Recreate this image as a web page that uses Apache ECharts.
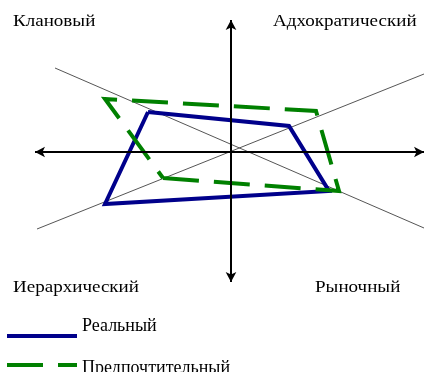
<!DOCTYPE html>
<html lang="ru">
<head>
<meta charset="UTF-8" />
<title>Профиль культуры</title>
<style>
  html, body { margin: 0; padding: 0; background: #fff; }
  #chart { width: 424px; height: 372px; }
</style>
</head>
<body>
<div id="chart"></div>
<script src="https://cdn.jsdelivr.net/npm/echarts@6/dist/echarts.min.js"></script>
<script>
// вершины профилей (условные единицы, 0,0 = пересечение осей)
const realPoints = [[-8.3, 4.0], [5.8, 2.6], [9.8, -3.9], [-12.6, -5.2]];
const preferredPoints = [[-6.8, -2.6], [10.8, -3.9], [8.5, 4.1], [-12.6, 5.3]];
// тонкие диагонали
const diagonalDown = [[-17.6, 8.4], [19.3, -7.6]];
const diagonalUp = [[-19.4, -7.7], [19.3, 7.8]];
// оси со стрелками
const horizontalAxis = [[-19.6, 0], [19.3, 0]];
const verticalAxis = [[0, 13.2], [0, -13.0]];
const cornerLabels = ['Клановый', 'Адхократический', 'Иерархический', 'Рыночный'];
const seriesNames = ['Реальный', 'Предпочтительный'];

const SERIF = '"Liberation Serif", "Times New Roman", serif';
const FONT = '17px ' + SERIF;

function closed(points) {
  return points.concat([points[0]]);
}

function cornerText(text, x, y) {
  return {
    type: 'text',
    x: x,
    y: y,
    scaleX: 1.12,
    style: { text: text, font: FONT, fill: '#000', verticalAlign: 'middle' }
  };
}

const chart = echarts.init(document.getElementById('chart'));

const legendBase = {
  orient: 'vertical',
  left: 5,
  padding: 0,
  itemWidth: 70,
  itemHeight: 14,
  lineStyle: { width: 4 },
  itemStyle: { opacity: 0 },
  selectedMode: false
};

const option = {
  animation: false,
  backgroundColor: '#fff',
  grid: { left: 0, right: 0, top: 0, bottom: 0 },
  xAxis: { type: 'value', min: -23.1, max: 19.3, show: false },
  yAxis: { type: 'value', min: -22, max: 15.2, show: false },
  legend: [
    Object.assign({}, legendBase, {
      top: 316,
      data: [seriesNames[0]],
      formatter: function (name) { return name + '\n '; },
      textStyle: { fontFamily: SERIF, fontSize: 18, color: '#000', lineHeight: 20 }
    }),
    Object.assign({}, legendBase, {
      top: 353,
      data: [seriesNames[1]],
      formatter: function (name) { return ' \n' + name; },
      textStyle: { fontFamily: SERIF, fontSize: 18, color: '#000', lineHeight: 6 }
    })
  ],
  graphic: [
    cornerText(cornerLabels[0], 13, 21.5),
    cornerText(cornerLabels[1], 273, 21.5),
    cornerText(cornerLabels[2], 13, 287.5),
    cornerText(cornerLabels[3], 315, 287.5)
  ],
  series: [
    {
      name: 'diag1',
      type: 'line',
      data: diagonalDown,
      symbol: 'none',
      silent: true,
      z: 1,
      lineStyle: { color: '#555', width: 1 }
    },
    {
      name: 'diag2',
      type: 'line',
      data: diagonalUp,
      symbol: 'none',
      silent: true,
      z: 1,
      lineStyle: { color: '#555', width: 1 }
    },
    {
      name: seriesNames[0],
      type: 'line',
      data: closed(realPoints),
      symbol: 'none',
      silent: true,
      z: 2,
      color: '#00008b',
      lineStyle: { color: '#00008b', width: 4, join: 'miter' }
    },
    {
      name: seriesNames[1],
      type: 'line',
      data: closed(preferredPoints),
      symbol: 'none',
      silent: true,
      z: 3,
      color: '#008000',
      lineStyle: { color: '#008000', width: 4, type: [36, 15], join: 'miter' }
    },
    {
      name: 'axes',
      type: 'line',
      data: [],
      symbol: 'none',
      silent: true,
      z: 5,
      markLine: {
        silent: true,
        animation: false,
        symbol: ['arrow', 'arrow'],
        symbolSize: [8, 10],
        label: { show: false },
        emphasis: { disabled: true },
        lineStyle: { color: '#000', width: 2, type: 'solid' },
        data: [
          [{ coord: horizontalAxis[0] }, { coord: horizontalAxis[1] }],
          [{ coord: verticalAxis[0] }, { coord: verticalAxis[1] }]
        ]
      }
    }
  ]
};

chart.setOption(option);
</script>
</body>
</html>
